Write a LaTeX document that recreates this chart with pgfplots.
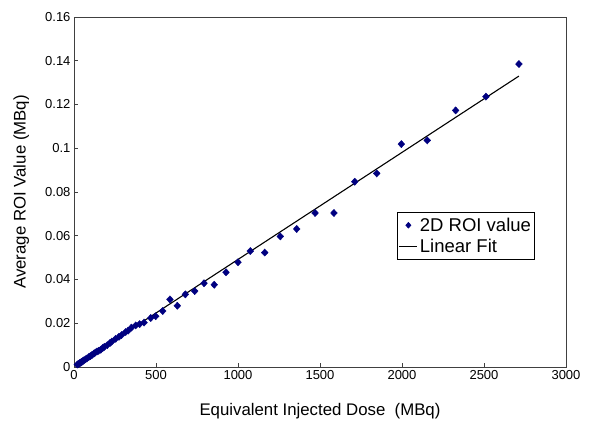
\documentclass[border=0pt]{standalone}
\usepackage{pgfplots}
\pgfplotsset{compat=1.18}
\usepackage{fontspec}
\setmainfont{Liberation Sans}
\definecolor{roinavy}{HTML}{000080}

\begin{document}
\begin{tikzpicture}[x=1pt,y=1pt]
    \begin{axis}[
        name=ax,
        scale only axis,
        width=492pt, height=350pt,
        xmin=0, xmax=3000,
        ymin=0, ymax=0.16,
        xtick={0,500,...,3000},
        ytick={0,0.02,...,0.16},
        scaled x ticks=false,
        scaled y ticks=false,
        tick align=inside,
        major tick length=4pt,
        xtick pos=bottom, ytick pos=left,
        axis line style={line width=0.7pt, black!75},
        tick style={line width=0.7pt, black!75},
        ticklabel style={font=\fontsize{13}{15}\selectfont},
        /pgf/number format/assume math mode=true,
        /pgf/number format/1000 sep={},
        yticklabel style={/pgf/number format/fixed, /pgf/number format/precision=2},
        xlabel={Equivalent Injected Dose\ \ (MBq)},
        ylabel={Average ROI Value (MBq)},
        every axis x label/.style={at={(axis description cs:0.5,-0.126)}, anchor=center,
            font=\fontsize{16.8}{19}\selectfont},
        every axis y label/.style={at={(axis description cs:-0.107,0.5)}, rotate=90, anchor=center,
            font=\fontsize{16.8}{19}\selectfont},
        legend style={at={(rel axis cs:0.6565,0.443)}, anchor=north west,
            font=\fontsize{18.5}{21}\selectfont, draw=black, line width=0.7pt,
            inner xsep=1.5pt, inner ysep=3.5pt, row sep=2pt},
        legend cell align=left,
        legend image code/.code={\draw[#1] (0pt,0pt) -- (18pt,0pt);},
    ]
        % measured points
        \addplot[only marks, mark=diamond*, mark size=3.6pt, color=roinavy,
                 mark options={xscale=1.25},
                 legend image code/.code={\draw[mark=diamond*, mark size=2.8pt, mark options={xscale=1.2}, color=roinavy] plot coordinates {(9pt,0pt)};}]
        coordinates {
            (20,0.0011) (25,0.0013) (30,0.0015) (35,0.0018) (41,0.0019) (45,0.0023)
            (50,0.0025) (55,0.0028) (61,0.0031) (70,0.0035) (80,0.0040) (91,0.0046)
            (100,0.0050) (110,0.0055) (122,0.0062) (130,0.0066) (140,0.0071)
            (150,0.0074) (163,0.0079) (175,0.0087) (185,0.0092) (203,0.0100)
            (220,0.0110) (230,0.0116) (254,0.0129) (274,0.0138) (290,0.0146)
            (315,0.0160) (330,0.0166) (350,0.0180) (376,0.0190) (400,0.0196)
            (427,0.0203) (468,0.0224) (498,0.0232) (541,0.0256) (585,0.0309)
            (630,0.0280) (679,0.0332) (736,0.0347) (793,0.0383) (855,0.0376)
            (927,0.0433) (1000,0.0479) (1075,0.0530) (1163,0.0523) (1258,0.0597)
            (1358,0.0631) (1470,0.0704) (1585,0.0704) (1712,0.0847) (1846,0.0885)
            (1996,0.1019) (2154,0.1036) (2327,0.1173) (2512,0.1236) (2713,0.1385)
        };
        \addlegendentry{2D ROI value}
        % linear fit
        \addplot[black, line width=1.1pt] coordinates {(20,0.0012) (2713,0.1330)};
        \addlegendentry{Linear Fit}
    \end{axis}
    \path ([xshift=-74pt,yshift=-57pt]ax.south west) rectangle ([xshift=40pt,yshift=17pt]ax.north east);
\end{tikzpicture}
\end{document}
